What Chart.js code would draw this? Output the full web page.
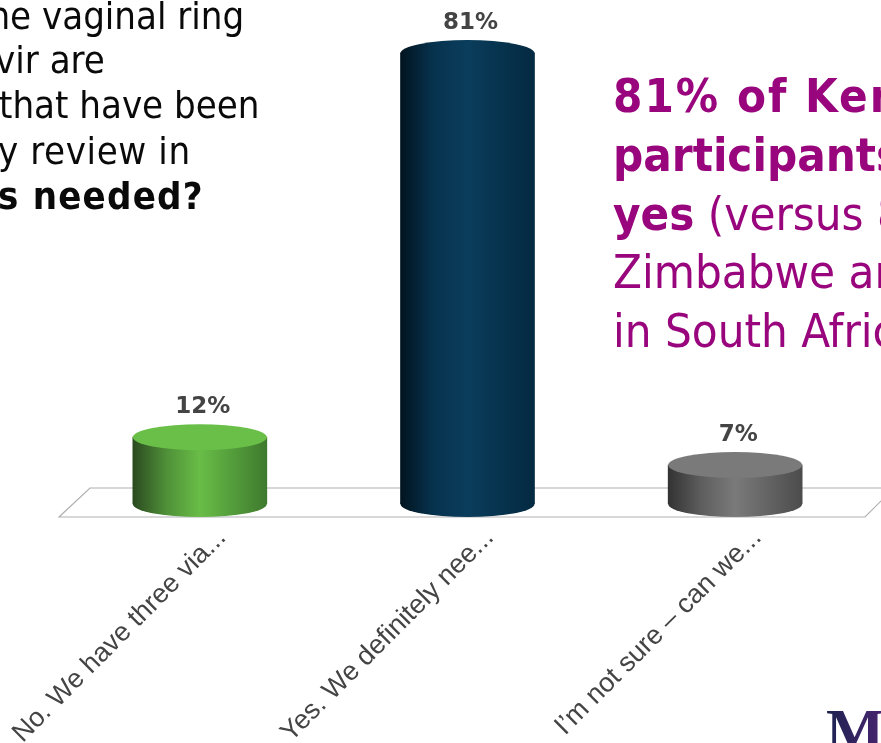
<!DOCTYPE html>
<html>
<head>
<meta charset="utf-8">
<title>Poll results</title>
<script src="https://cdn.jsdelivr.net/npm/chart.js@4"></script>
<style>
  html, body { margin: 0; padding: 0; background: #fff; }
  body { position: relative; width: 881px; height: 743px; overflow: hidden; }
  #chart { position: absolute; left: 0; top: 0; }
  .line { position: absolute; white-space: nowrap; font-family: "DejaVu Sans Condensed", "DejaVu Sans", sans-serif; }
  .q { font-size: 38px; line-height: 44px; color: #0a0a0a; }
  .note { font-size: 47px; line-height: 52px; color: #98057c; }
  #logo { position: absolute; left: 826px; top: 695px; font: bold 62px "Liberation Serif", serif;
    background: linear-gradient(90deg, #1c2350, #4a2470); -webkit-background-clip: text; background-clip: text; color: transparent; }
</style>
</head>
<body>
<canvas id="chart" width="881" height="743"></canvas>
<div class="line q" style="left:-25px;top:-6px">the vaginal ring</div>
<div class="line q" style="left:-5px;top:38px">vir are</div>
<div class="line q" style="left:-1px;top:83px">that have been</div>
<div class="line q" style="left:-2px;top:129px;letter-spacing:0.6px">y review in</div>
<div class="line q" style="left:-2px;top:174px"><b style="letter-spacing:1.2px">s needed?</b></div>
<div class="line note" style="left:613px;top:70px"><b style="letter-spacing:2px">81% of Kenyan</b></div>
<div class="line note" style="left:613px;top:129px"><b>participants</b></div>
<div class="line note" style="left:613px;top:188px"><b>yes</b> (versus 80%</div>
<div class="line note" style="left:613px;top:246px">Zimbabwe and</div>
<div class="line note" style="left:613px;top:305px">in South Africa</div>
<div id="logo">M</div>
<script>
const categories = ["No. We have three via...", "Yes. We definitely nee...", "I\u2019m not sure \u2013 can we..."];
const percents = [12, 81, 7];
const sideColors = [
  ["#2b4a20", "#4f9038", "#69bd47", "#55a03c", "#3f7a2e"],
  ["#02141f", "#07334f", "#0a3d5c", "#07344f", "#052a42"],
  ["#333333", "#5e5e5e", "#7a7a7a", "#666666", "#4c4c4c"],
];
const capColors = ["#69bf48", null, "#7a7a7a"];

const BAR_WIDTH = 134;
const RY = 13;

// horizontal shading across a cylinder body
function sideGradient(ctx, x, stops) {
  const half = BAR_WIDTH / 2;
  const g = ctx.createLinearGradient(x - half, 0, x + half, 0);
  [0, 0.25, 0.5, 0.72, 1].forEach((p, i) => g.addColorStop(p, stops[i]));
  return g;
}

const cylinderPlugin = {
  id: "cylinders",
  beforeDatasetsDraw(chart) {
    const { ctx, chartArea } = chart;
    const base = chartArea.bottom;
    // floor the cylinders stand on
    ctx.save();
    ctx.strokeStyle = "#b0b0b0";
    ctx.lineWidth = 1.2;
    ctx.beginPath();
    ctx.moveTo(900, base - 16);
    ctx.lineTo(90, base - 16);
    ctx.lineTo(59, base + 13);
    ctx.lineTo(865, base + 13);
    ctx.lineTo(885, base - 7);
    ctx.stroke();
    // rounded foot of each cylinder
    chart.getDatasetMeta(0).data.forEach((bar, i) => {
      ctx.fillStyle = sideGradient(ctx, bar.x, sideColors[i]);
      ctx.beginPath();
      ctx.ellipse(bar.x, base, BAR_WIDTH / 2, RY, 0, 0, Math.PI * 2);
      ctx.fill();
    });
    ctx.restore();
  },
  afterDatasetsDraw(chart) {
    const { ctx } = chart;
    ctx.save();
    chart.getDatasetMeta(0).data.forEach((bar, i) => {
      // the tall bar's cap carries on the body shading
      ctx.fillStyle = capColors[i] || sideGradient(ctx, bar.x, sideColors[i]);
      ctx.beginPath();
      ctx.ellipse(bar.x, bar.y, BAR_WIDTH / 2, RY, 0, 0, Math.PI * 2);
      ctx.fill();
      ctx.fillStyle = "#444444";
      ctx.font = 'bold 23px "DejaVu Sans"';
      ctx.textAlign = "center";
      ctx.textBaseline = "alphabetic";
      ctx.fillText(percents[i] + "%", bar.x + 3, bar.y - RY - 11);
    });
    ctx.restore();
  },
};

new Chart(document.getElementById("chart").getContext("2d"), {
  type: "bar",
  data: {
    labels: categories,
    datasets: [{
      data: percents,
      barThickness: BAR_WIDTH,
      borderWidth: 0,
      backgroundColor: (c) => {
        const x = c.chart.scales.x ? c.chart.scales.x.getPixelForTick(c.dataIndex) : NaN;
        if (!Number.isFinite(x)) return "#888888";
        return sideGradient(c.chart.ctx, x, sideColors[c.dataIndex]);
      },
    }],
  },
  options: {
    responsive: false,
    animation: false,
    layout: { padding: { left: 66, right: 12, top: 3, bottom: 0 } },
    plugins: { legend: { display: false }, tooltip: { enabled: false } },
    scales: {
      x: {
        grid: { display: false },
        border: { display: false },
        ticks: {
          autoSkip: false,
          minRotation: 45,
          maxRotation: 45,
          labelOffset: 22,
          padding: 10,
          color: "#444444",
          font: { family: '"Liberation Sans", sans-serif', size: 27 },
        },
        afterFit(scale) {
          scale.height = 239;
          scale.paddingLeft = 0;
          scale.paddingRight = 0;
        },
      },
      y: { display: false, min: 0, max: 90 },
    },
  },
  plugins: [cylinderPlugin],
});
</script>
</body>
</html>
